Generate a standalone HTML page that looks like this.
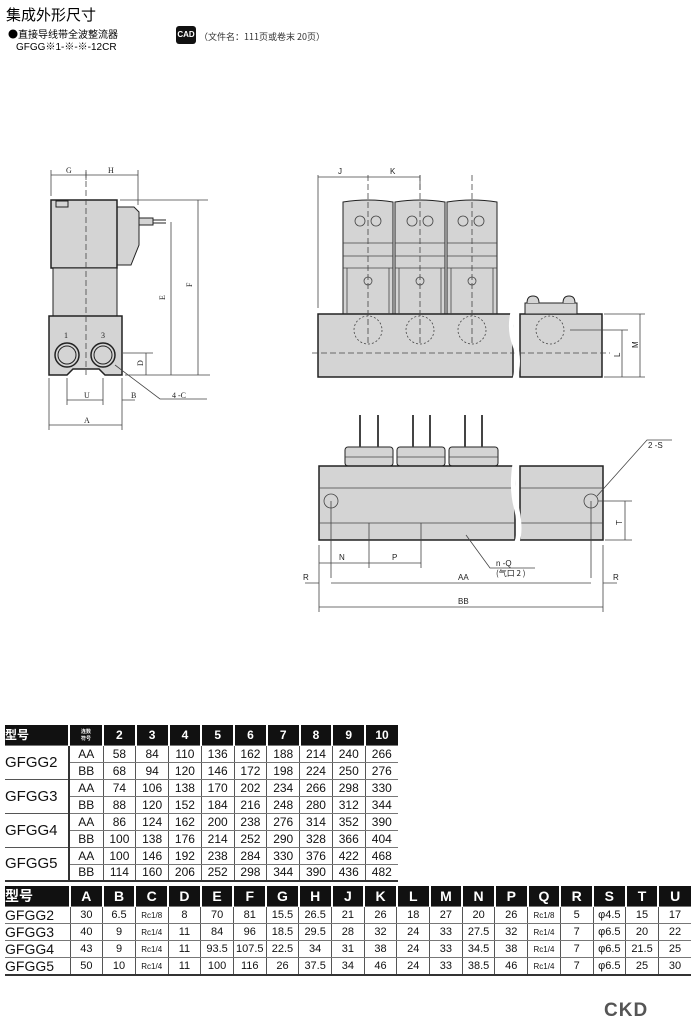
<!DOCTYPE html>
<html><head><meta charset="utf-8"><style>
body{margin:0;background:#fff;width:700px;height:1023px;overflow:hidden;position:relative;font-family:"Liberation Sans","Noto Sans CJK SC",sans-serif}
table{border-collapse:collapse;position:absolute;table-layout:fixed;font-family:"Liberation Sans","Noto Sans CJK SC",sans-serif;color:#111}
td{text-align:center;padding:0;border-left:1px solid #555;border-bottom:1px solid #777;overflow:hidden;white-space:nowrap}
tr.h td{background:#111;color:#fff;font-weight:bold;border-left:2px solid #fff}
</style></head><body>
<div style="position:absolute;left:6px;top:4px;font-size:15px;font-family:'Noto Sans CJK SC',sans-serif">集成外形尺寸</div>
<div style="position:absolute;left:8px;top:26px;font-size:10px;font-family:'Noto Sans CJK SC',sans-serif">●直接导线带全波整流器</div>
<div style="position:absolute;left:16px;top:38px;font-size:10px">GFGG※1-※-※-12CR</div>
<div style="position:absolute;left:176px;top:26px;width:20px;height:18px;background:#111;color:#fff;font-size:8px;font-weight:bold;border-radius:3px;text-align:center;line-height:18px">CAD</div>
<div style="position:absolute;left:199px;top:30px;font-size:9px;color:#333;font-family:'Noto Sans CJK SC',sans-serif">（文件名：111页或卷末 20页）</div>

<svg width="700" height="720" style="position:absolute;left:0;top:0" font-family="Liberation Serif,serif" font-size="9">
<g stroke="#222" fill="#d4d4d4" stroke-width="1">
<path d="M117 207 H134 L139 212 V245 L131 265 H117Z"/>
<rect x="139" y="218" width="14" height="7"/>
<path d="M153 220 H166 M153 223 H166" stroke-width="1"/>
<rect x="51" y="200" width="66" height="68" stroke-width="1.5"/>
<rect x="56" y="201" width="12" height="6"/>
<rect x="53" y="268" width="64" height="48"/>
<path d="M49 316 H122 V375 H105 L99 369 H73 L67 375 H49Z" stroke-width="1.5"/>
<circle cx="67" cy="355" r="12" stroke-width="1.5"/><circle cx="67" cy="355" r="9"/>
<circle cx="103" cy="355" r="12" stroke-width="1.5"/><circle cx="103" cy="355" r="9"/>
<path d="M343 202 Q368 198 393 202 V314 H343Z"/>
<path d="M395 202 Q420 198 445 202 V314 H395Z"/>
<path d="M447 202 Q472 198 497 202 V314 H447Z"/>
<rect x="318" y="314" width="195" height="63" stroke-width="1.5"/>
<rect x="520" y="314" width="82" height="63" stroke-width="1.5"/>
<rect x="525" y="303" width="52" height="11"/>
<path d="M527 303 Q527 296 533 296 Q539 296 539 303 M563 303 Q563 296 569 296 Q575 296 575 303"/>
<rect x="345" y="447" width="48" height="19" rx="3"/>
<rect x="397" y="447" width="48" height="19" rx="3"/>
<rect x="449" y="447" width="49" height="19" rx="3"/>
<rect x="319" y="466" width="196" height="74" stroke-width="1.5"/>
<rect x="520" y="466" width="83" height="74" stroke-width="1.5"/>
</g>
<g stroke="#444" fill="none" stroke-width="0.8">
<path d="M343 243H393M343 256H393M343 268H393M395 243H445M395 256H445M395 268H445M447 243H497M447 256H497M447 268H497"/>
<path d="M347 268V314M389 268V314M399 268V314M441 268V314M451 268V314M493 268V314"/>
<path d="M345 457H393M397 457H445M449 457H498"/>
<path d="M319 488H515M319 523H515M520 488H603M520 523H603"/>
<circle cx="360" cy="221" r="5"/><circle cx="376" cy="221" r="5"/><circle cx="412" cy="221" r="5"/><circle cx="428" cy="221" r="5"/><circle cx="463" cy="221" r="5"/><circle cx="479" cy="221" r="5"/>
<circle cx="368" cy="281" r="4"/><circle cx="420" cy="281" r="4"/><circle cx="472" cy="281" r="4"/>
<circle cx="331" cy="501" r="7"/><circle cx="591" cy="501" r="7"/>
<g stroke-dasharray="2 2"><circle cx="368" cy="330" r="14"/><circle cx="420" cy="330" r="14"/><circle cx="472" cy="330" r="14"/><circle cx="550" cy="330" r="14"/></g>
<g stroke-dasharray="6 3"><path d="M86 172V375M368 175V345M420 175V345M472 175V345M312 353H610"/></g>
<path d="M360 415V447M378 415V447M413 415V447M430 415V447M465 415V447M482 415V447" stroke-width="2"/>
<path d="M51 170V196M86 170V180M138 170V205M51 175H138M120 200H208M171 222V375M198 200V375M125 375H210M123 353H153M146 353V375M115 365L160 399H207M67 378V405M103 378V405M122 378V430M49 378V430M67 400H103M122 400H135M49 425H122"/>
<path d="M318 175V308M318 177H420M420 175V190M604 314H645M604 377H645M570 330H628M622 330V377M640 314V377"/>
<path d="M331 501V578M591 501V578M319 545V612M369 523V568M421 523V568M603 545V612M319 563H421M305 583H319M331 583H591M603 583H617M319 607H603M598 501H632M605 540H632M625 501V540M597 496L647 440H672M466 535L490 568H535"/>
</g>
<g fill="#222" font-size="8">
<text x="66" y="173">G</text><text x="108" y="173">H</text><text x="64" y="338">1</text><text x="101" y="338">3</text>
<text x="84" y="398">U</text><text x="131" y="398">B</text><text x="84" y="423">A</text><text x="172" y="398">4 -C</text>
<text x="165" y="300" transform="rotate(-90 165 300)">E</text><text x="192" y="287" transform="rotate(-90 192 287)">F</text><text x="143" y="366" transform="rotate(-90 143 366)">D</text>
</g>
<g fill="#222" font-family="Liberation Sans,sans-serif" font-size="8">
<text x="338" y="174">J</text><text x="390" y="174">K</text>
<text x="620" y="357" transform="rotate(-90 620 357)">L</text><text x="638" y="348" transform="rotate(-90 638 348)">M</text>
<text x="339" y="560">N</text><text x="392" y="560">P</text><text x="303" y="580">R</text><text x="613" y="580">R</text>
<text x="458" y="580">AA</text><text x="458" y="604">BB</text><text x="622" y="525" transform="rotate(-90 622 525)">T</text>
<text x="648" y="448">2 -S</text><text x="496" y="566">n -Q</text><text x="496" y="576" font-family="Noto Sans CJK SC,sans-serif">(气口 2 )</text>
</g>
<path d="M513 312 Q509 330 515 345 Q520 360 515 379" stroke="#fff" stroke-width="5" fill="none"/>
<path d="M515 464 Q511 490 517 510 Q521 530 517 542" stroke="#fff" stroke-width="5" fill="none"/>
</svg>

<table style="left:5px;top:725px;width:393px;font-size:12px">
<colgroup><col style="width:64px"><col style="width:34px"><col span="9"></colgroup>
<tr class="h" style="height:20px"><td style="text-align:left;border-left:none;font-family:'Noto Sans CJK SC'">型号</td><td style="font-size:5px;white-space:normal">连数<br>符号</td><td>2</td><td>3</td><td>4</td><td>5</td><td>6</td><td>7</td><td>8</td><td>9</td><td>10</td></tr>
<tr style="height:17px"><td rowspan="2" style="border-left:none;font-size:15px;text-align:left;border-bottom:1px solid #555">GFGG2</td><td style="border-left:2px solid #333">AA</td><td>58</td><td>84</td><td>110</td><td>136</td><td>162</td><td>188</td><td>214</td><td>240</td><td>266</td></tr>
<tr style="height:17px"><td style="border-left:2px solid #333">BB</td><td>68</td><td>94</td><td>120</td><td>146</td><td>172</td><td>198</td><td>224</td><td>250</td><td>276</td></tr>
<tr style="height:17px"><td rowspan="2" style="border-left:none;font-size:15px;text-align:left;border-bottom:1px solid #555">GFGG3</td><td style="border-left:2px solid #333">AA</td><td>74</td><td>106</td><td>138</td><td>170</td><td>202</td><td>234</td><td>266</td><td>298</td><td>330</td></tr>
<tr style="height:17px"><td style="border-left:2px solid #333">BB</td><td>88</td><td>120</td><td>152</td><td>184</td><td>216</td><td>248</td><td>280</td><td>312</td><td>344</td></tr>
<tr style="height:17px"><td rowspan="2" style="border-left:none;font-size:15px;text-align:left;border-bottom:1px solid #555">GFGG4</td><td style="border-left:2px solid #333">AA</td><td>86</td><td>124</td><td>162</td><td>200</td><td>238</td><td>276</td><td>314</td><td>352</td><td>390</td></tr>
<tr style="height:17px"><td style="border-left:2px solid #333">BB</td><td>100</td><td>138</td><td>176</td><td>214</td><td>252</td><td>290</td><td>328</td><td>366</td><td>404</td></tr>
<tr style="height:17px"><td rowspan="2" style="border-left:none;font-size:15px;text-align:left;border-bottom:2px solid #333">GFGG5</td><td style="border-left:2px solid #333">AA</td><td>100</td><td>146</td><td>192</td><td>238</td><td>284</td><td>330</td><td>376</td><td>422</td><td>468</td></tr>
<tr style="height:17px;border-bottom:2px solid #333"><td style="border-left:2px solid #333">BB</td><td>114</td><td>160</td><td>206</td><td>252</td><td>298</td><td>344</td><td>390</td><td>436</td><td>482</td></tr>
</table>

<table style="left:5px;top:886px;width:686px;font-size:11px">
<colgroup><col style="width:65px"><col span="19" style="width:32.7px"></colgroup>
<tr class="h" style="height:19px;font-size:14px"><td style="text-align:left;border-left:none;font-family:'Noto Sans CJK SC'">型号</td><td>A</td><td>B</td><td>C</td><td>D</td><td>E</td><td>F</td><td>G</td><td>H</td><td>J</td><td>K</td><td>L</td><td>M</td><td>N</td><td>P</td><td>Q</td><td>R</td><td>S</td><td>T</td><td>U</td></tr>
<tr style="height:17px"><td style="border-left:none;font-size:14px;text-align:left">GFGG2</td><td>30</td><td>6.5</td><td style="font-size:8px">Rc1/8</td><td>8</td><td>70</td><td>81</td><td>15.5</td><td>26.5</td><td>21</td><td>26</td><td>18</td><td>27</td><td>20</td><td>26</td><td style="font-size:8px">Rc1/8</td><td>5</td><td>φ4.5</td><td>15</td><td>17</td></tr>
<tr style="height:17px"><td style="border-left:none;font-size:14px;text-align:left">GFGG3</td><td>40</td><td>9</td><td style="font-size:8px">Rc1/4</td><td>11</td><td>84</td><td>96</td><td>18.5</td><td>29.5</td><td>28</td><td>32</td><td>24</td><td>33</td><td>27.5</td><td>32</td><td style="font-size:8px">Rc1/4</td><td>7</td><td>φ6.5</td><td>20</td><td>22</td></tr>
<tr style="height:17px"><td style="border-left:none;font-size:14px;text-align:left">GFGG4</td><td>43</td><td>9</td><td style="font-size:8px">Rc1/4</td><td>11</td><td>93.5</td><td>107.5</td><td>22.5</td><td>34</td><td>31</td><td>38</td><td>24</td><td>33</td><td>34.5</td><td>38</td><td style="font-size:8px">Rc1/4</td><td>7</td><td>φ6.5</td><td>21.5</td><td>25</td></tr>
<tr style="height:17px;border-bottom:2px solid #333"><td style="border-left:none;font-size:14px;text-align:left">GFGG5</td><td>50</td><td>10</td><td style="font-size:8px">Rc1/4</td><td>11</td><td>100</td><td>116</td><td>26</td><td>37.5</td><td>34</td><td>46</td><td>24</td><td>33</td><td>38.5</td><td>46</td><td style="font-size:8px">Rc1/4</td><td>7</td><td>φ6.5</td><td>25</td><td>30</td></tr>
</table>

<div style="position:absolute;left:604px;top:1000px;font-size:19px;font-weight:bold;color:#555;letter-spacing:1px">CKD</div>
</body></html>
